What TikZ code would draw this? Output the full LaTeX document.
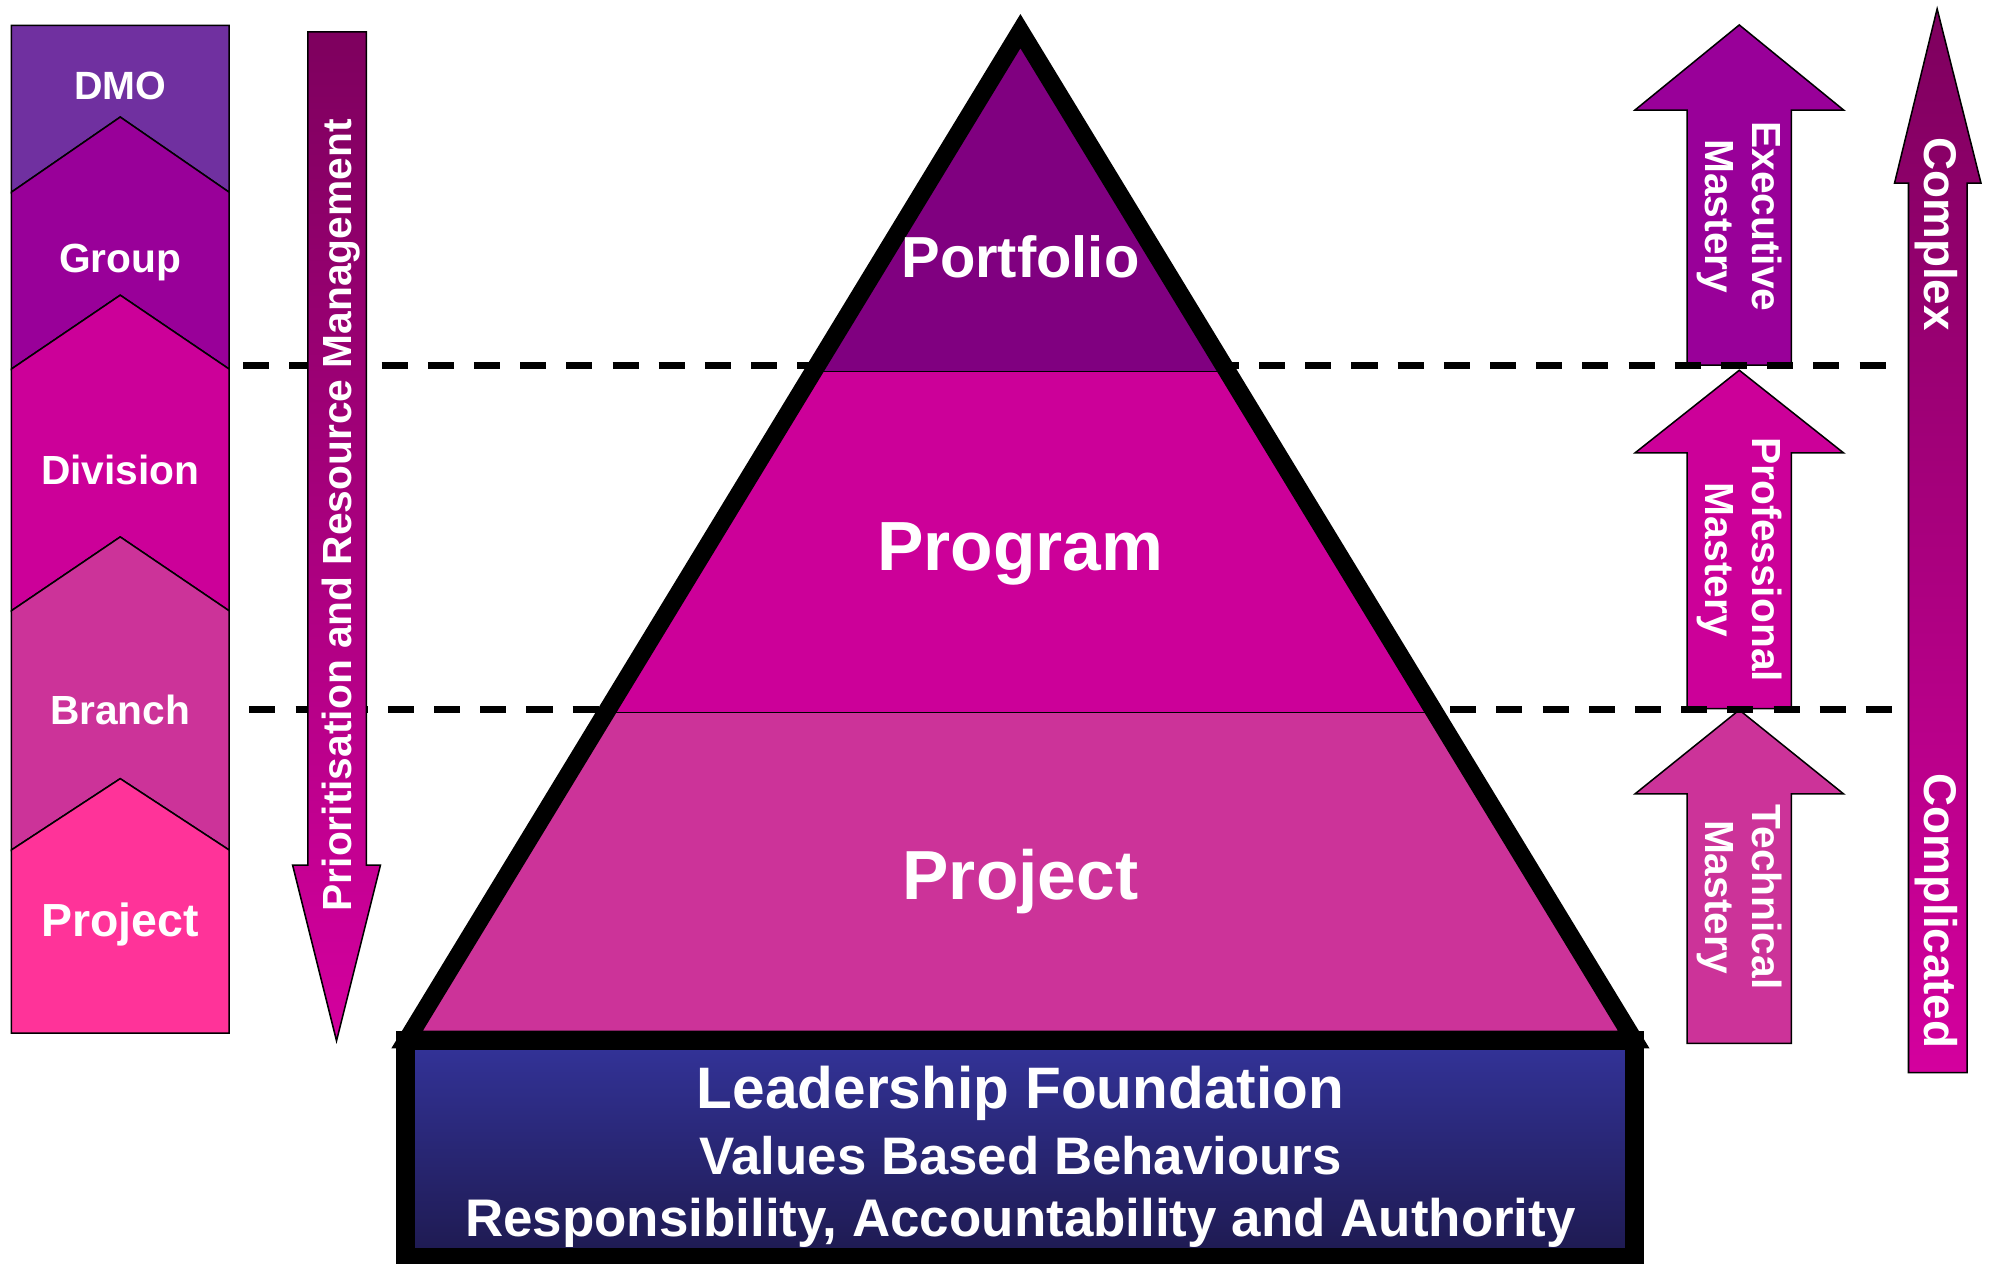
\documentclass[tikz,border=0pt]{standalone}
\usepackage{fontspec}
\setmainfont{Liberation Sans}
\usepackage{tikz}

\definecolor{dmo}{HTML}{7030A0}
\definecolor{grp}{HTML}{990099}
\definecolor{divn}{HTML}{CC0099}
\definecolor{brch}{HTML}{CC3399}
\definecolor{proj}{HTML}{FF3399}
\definecolor{portf}{HTML}{800080}
\definecolor{darktop}{HTML}{7E005E}
\definecolor{brightbot}{HTML}{D4009E}
\definecolor{basetop}{HTML}{333399}
\definecolor{basebot}{HTML}{1E1A50}

\tikzset{
  lbl/.style={text=white, font=\bfseries\fontsize{32}{37}\selectfont, align=center, inner sep=0pt},
  split/.style={dash pattern=on 20.5pt off 15.8pt, line width=5.5pt}
}

\begin{document}
\begin{tikzpicture}[x=1pt, y=-1pt]
\useasboundingbox (0,0) rectangle (1568,993);

% left column
\draw[fill=dmo, line width=1.2pt] (9,20) -- (180,20) -- (180,151) -- (94.5,92) -- (9,151) -- cycle;
\draw[fill=grp, line width=1.2pt] (9,151) -- (94.5,92) -- (180,151) -- (180,290) -- (94.5,232) -- (9,290) -- cycle;
\draw[fill=divn, line width=1.2pt] (9,290) -- (94.5,232) -- (180,290) -- (180,480) -- (94.5,422) -- (9,480) -- cycle;
\draw[fill=brch, line width=1.2pt] (9,480) -- (94.5,422) -- (180,480) -- (180,668) -- (94.5,612) -- (9,668) -- cycle;
\draw[fill=proj, line width=1.2pt] (9,668) -- (94.5,612) -- (180,668) -- (180,812) -- (9,812) -- cycle;
\node[lbl, anchor=base, font=\bfseries\fontsize{31}{36}\selectfont] (dmo) at (94.5,78) {DMO};
\node[lbl, anchor=base] (group) at (94.5,214.5) {Group};
\node[lbl, anchor=base] (division) at (94.5,380.5) {Division};
\node[lbl, anchor=base] (branch) at (94.5,569.5) {Branch};
\node[lbl, anchor=base, font=\bfseries\fontsize{36.5}{40}\selectfont] (project) at (94.5,736) {Project};

% mastery arrows
\draw[fill=grp, line width=1.2pt] (1326,287) -- (1326,86.5) -- (1285,86.5) -- (1367,19.6) -- (1449,86.5) -- (1408,86.5) -- (1408,287) -- cycle;
\draw[fill=divn, line width=1.2pt] (1326,557) -- (1326,356) -- (1285,356) -- (1367,291) -- (1449,356) -- (1408,356) -- (1408,557) -- cycle;
\draw[fill=brch, line width=1.2pt] (1326,820) -- (1326,624) -- (1285,624) -- (1367,558) -- (1449,624) -- (1408,624) -- (1408,820) -- cycle;
\node[lbl, rotate=-90] (exec) at (1367,170) {Executive\\Mastery};
\node[lbl, rotate=-90] (prof) at (1367,440) {Professional\\Mastery};
\node[lbl, rotate=-90] (tech) at (1367,705) {Technical\\Mastery};

% level lines
\draw[split] (191,287.5) -- (1485,287.5);
\draw[split] (196,558) -- (1492,558);

% complexity arrow
\draw[top color=darktop, bottom color=brightbot, line width=1.2pt] (1500,843) -- (1500,144) -- (1489,144) -- (1522.5,7) -- (1557,144) -- (1546,144) -- (1546,843) -- cycle;
\node[lbl, rotate=-90, font=\bfseries\fontsize{36}{40}\selectfont] (complex) at (1522,184) {Complex};
\node[lbl, rotate=-90, font=\bfseries\fontsize{36}{40}\selectfont] (complicated) at (1522,716) {Complicated};

% prioritisation arrow
\draw[top color=darktop, bottom color=brightbot, line width=1.2pt] (242,25) -- (288,25) -- (288,680) -- (299,680) -- (264.5,818) -- (230,680) -- (242,680) -- cycle;
\node[lbl, rotate=90] (prio) at (268,405) {Prioritisation and Resource Management};

% pyramid
\fill[portf] (802,24.5) -- (964.7,292) -- (639.3,292) -- cycle;
\fill[divn] (639.3,292) -- (964.7,292) -- (1127.7,560) -- (476.3,560) -- cycle;
\fill[brch] (476.3,560) -- (1127.7,560) -- (1284,817) -- (320,817) -- cycle;
\draw[line width=1.5pt] (639.3,292) -- (964.7,292);
\draw[line width=1.5pt] (476.3,560) -- (1127.7,560);
\draw[line width=14pt, miter limit=20] (802,24.5) -- (1284,817) -- (320,817) -- cycle;
\node[lbl, anchor=base, font=\bfseries\fontsize{45.5}{50}\selectfont] (portfolio) at (802,218) {Portfolio};
\node[lbl, anchor=base, font=\bfseries\fontsize{54.7}{60}\selectfont] (program) at (802,448) {Program};
\node[lbl, anchor=base, font=\bfseries\fontsize{54.6}{60}\selectfont] (projlvl) at (802,707) {Project};

% foundation
\draw[line width=15pt, top color=basetop, bottom color=basebot] (319,818) rectangle (1285,988);
\node[lbl, anchor=base, font=\bfseries\fontsize{46}{50}\selectfont] (lead) at (802,871) {Leadership Foundation};
\node[lbl, anchor=base, font=\bfseries\fontsize{41.5}{46}\selectfont] (values) at (802,923) {Values Based Behaviours};
\node[lbl, anchor=base, font=\bfseries\fontsize{41.6}{46}\selectfont] (resp) at (802,972) {Responsibility, Accountability and Authority};
\end{tikzpicture}
\end{document}
